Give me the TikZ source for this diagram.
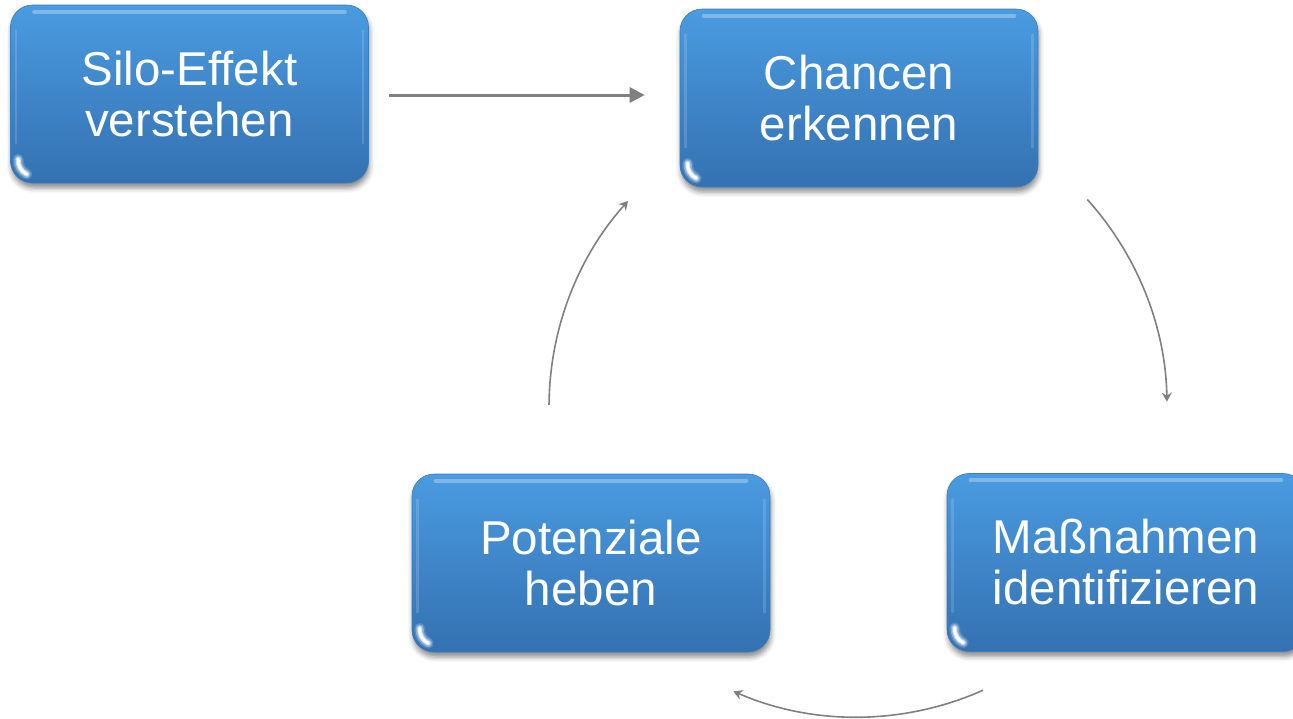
\documentclass[tikz,border=0pt]{standalone}
\usepackage{fontspec}
\setmainfont{Liberation Sans}
\usetikzlibrary{arrows.meta,shadows.blur,calc}

\definecolor{boxtop}{RGB}{74,155,225}
\definecolor{boxbot}{RGB}{52,113,177}
\definecolor{boxedge}{RGB}{60,125,190}
\definecolor{arrowgray}{RGB}{128,128,128}

\tikzset{
  stepbox/.style={
    rounded corners=22pt, minimum width=358pt, minimum height=178pt,
    top color=boxtop, bottom color=boxbot, draw=boxedge, line width=0.6pt,
    align=center, text=white, inner sep=0pt,
    font=\fontsize{47.5}{51}\selectfont,
    blur shadow={shadow xshift=1pt, shadow yshift=-5pt,
                 shadow blur radius=5pt, shadow opacity=45}
  },
  flow/.style={draw=arrowgray, line width=3pt,
    -{Triangle[length=15pt,width=15pt]}},
  cycle/.style={draw=arrowgray, line width=1.6pt,
    -{Stealth[length=9pt,width=10pt,inset=3pt]}}
}

% glossy rim along the top and side edges and a bright glint
% hugging the lower-left corner
\newcommand{\gloss}[1]{%
  \draw[white, opacity=0.3, line width=4pt, line cap=round]
    ($(#1.north west)+(24,7)$) -- ($(#1.north east)+(-24,7)$);
  \draw[white, opacity=0.15, line width=2.5pt, line cap=round]
    ($(#1.north west)+(6,26)$) -- ($(#1.south west)+(6,-40)$);
  \draw[white, opacity=0.15, line width=2.5pt, line cap=round]
    ($(#1.north east)+(-6,26)$) -- ($(#1.south east)+(-6,-40)$);
  \foreach \w/\o in {11/0.15, 8/0.3, 5/0.55, 3/0.95}
    \draw[white, opacity=\o, line width=\w pt, line cap=round]
      ($(#1.south west)+(8,-24)$) arc[start angle=185, end angle=115, radius=15];
}

\begin{document}
\begin{tikzpicture}[x=1pt,y=-1pt]
  \useasboundingbox (0,0) rectangle (1293,718);
  \clip (0,0) rectangle (1293,718);

  % process steps
  \node[stepbox] (silo)  at (189.5,94)  {Silo-Effekt\\verstehen};
  \node[stepbox] (chanc) at (859,98)    {Chancen\\erkennen};
  \node[stepbox] (pot)   at (591,563)   {Potenziale\\heben};
  \node[stepbox] (mass)  at (1126,562.5){Maßnahmen\\identifizieren};

  \gloss{silo}
  \gloss{chanc}
  \gloss{pot}
  \gloss{mass}

  % entry into the cycle
  \coordinate (in1)  at ($(silo.east)+(20,1)$);
  \coordinate (in2)  at ($(chanc.west)+(-35,-3)$);
  \draw[flow] (in1) -- (in2);

  % cycle arrows on a common circle
  \coordinate (ctr) at (857,407);
  \coordinate (c1) at ($(ctr)+(-42:310)$);
  \coordinate (c2) at ($(ctr)+(66:310)$);
  \coordinate (c3) at ($(ctr)+(180.4:308)$);
  \draw[cycle] (c1) arc[start angle=-42, end angle=-1, radius=310];
  \draw[cycle] (c2) arc[start angle=66, end angle=113.5, radius=310];
  \draw[cycle] (c3) arc[start angle=180.4, end angle=222, radius=308];
\end{tikzpicture}
\end{document}
